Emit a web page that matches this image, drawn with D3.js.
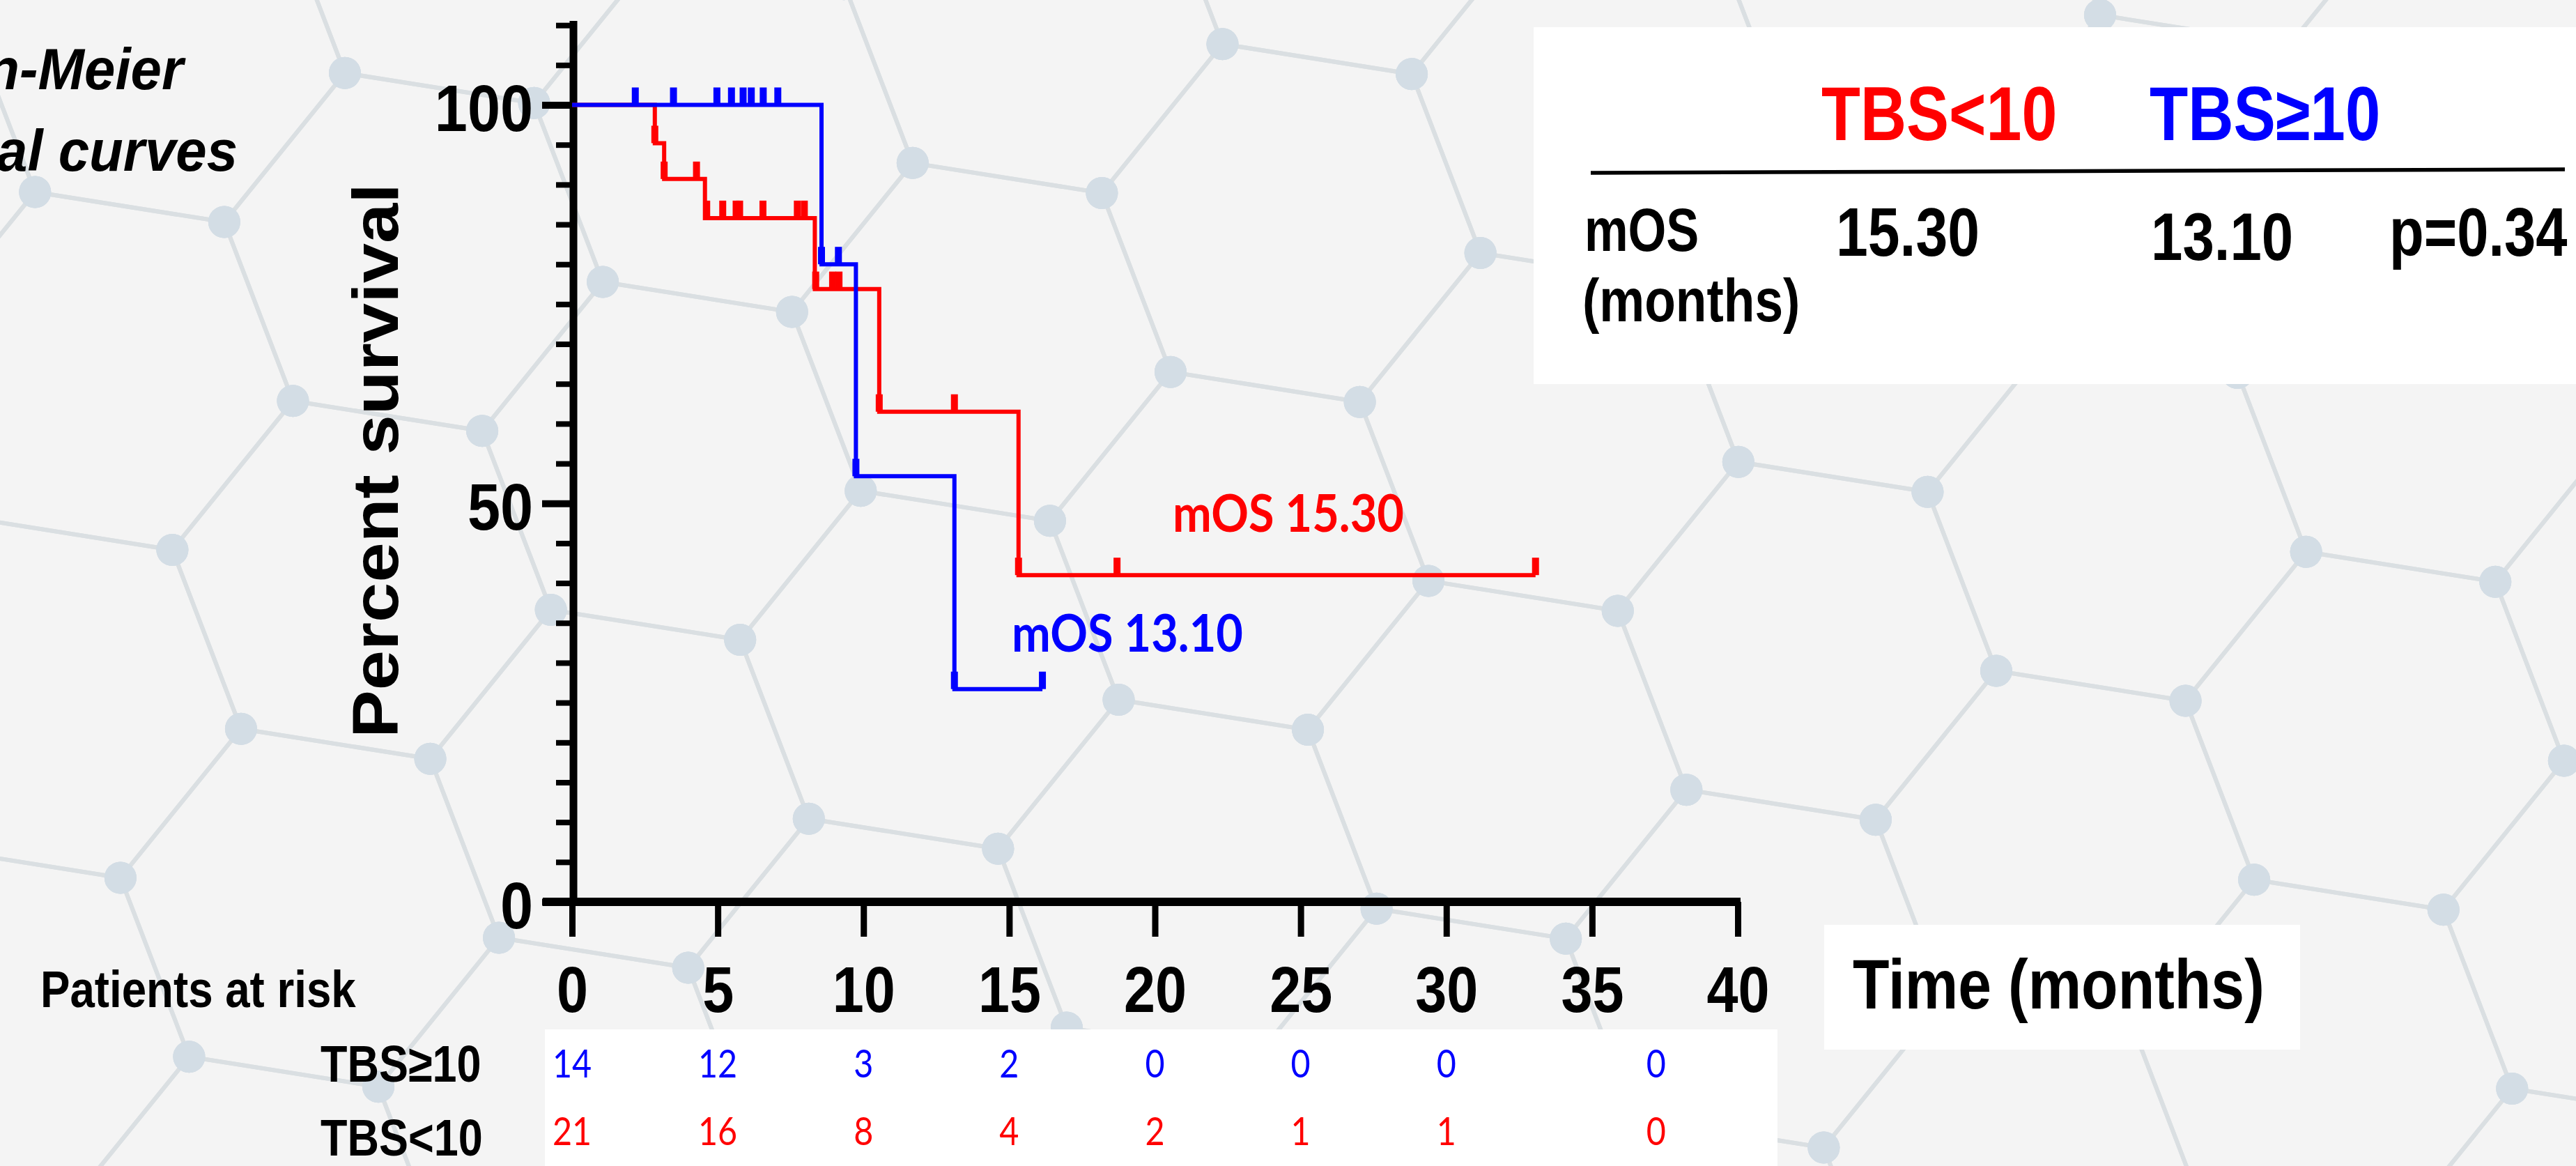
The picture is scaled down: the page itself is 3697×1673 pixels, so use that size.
<!DOCTYPE html>
<html>
<head>
<meta charset="utf-8">
<script src="https://cdn.jsdelivr.net/npm/d3@7"></script>
<style>
  body { margin: 0; overflow: hidden; background: #f4f4f4; }
  svg { display: block; }
</style>
</head>
<body>
<script>
// ---- data ----
const xTicks = [0, 5, 10, 15, 20, 25, 30, 35, 40];
const yTicks = [0, 50, 100];
const yMinorTicks = d3.range(0, 111, 5);

// Kaplan-Meier steps: [months, percent surviving]
const blueSteps = [[0, 100], [8.56, 80.0], [9.74, 53.4], [13.12, 26.7], [16.14, 26.7]];
const redSteps = [[0, 100], [2.84, 95.2], [3.16, 90.7], [4.56, 85.8], [8.33, 76.9], [10.54, 61.5], [15.32, 41.0], [33.06, 41.0]];

// censored marks: [months, percent]
const blueCensored = [[2.17, 100], [3.48, 100], [4.97, 100], [5.47, 100], [5.87, 100], [6.15, 100], [6.56, 100], [7.06, 100],
  [8.56, 80.0], [9.14, 80.0], [9.74, 53.4], [13.12, 26.7], [16.14, 26.7]];
const redCensored = [[2.84, 95.2], [3.16, 90.7], [4.27, 90.7], [4.62, 85.8], [5.17, 85.8], [5.63, 85.8], [5.75, 85.8],
  [6.55, 85.8], [7.73, 85.8], [7.97, 85.8], [8.36, 76.9], [8.94, 76.9], [9.16, 76.9], [10.54, 61.5], [13.12, 61.5],
  [15.32, 41.0], [18.7, 41.0], [33.06, 41.0]];

const riskTimes = [0, 5, 10, 15, 20, 25, 30, 37.2];
const riskBlue = [14, 12, 3, 2, 0, 0, 0, 0];
const riskRed = [21, 16, 8, 4, 2, 1, 1, 0];

const groupLow = "TBS<10";
const groupHigh = "TBS\u226510";
const medianLow = "15.30";
const medianHigh = "13.10";
const pValue = "p=0.34";

// ---- setup ----
const W = 3697, H = 1673;
const RED = "#ff0000", BLUE = "#0000ff";
const ARIAL = "'Liberation Sans', Arial, Helvetica, sans-serif";
const CALIBRI = "Lato, 'Open Sans', sans-serif";

const svg = d3.select("body").append("svg").attr("width", W).attr("height", H);
svg.append("rect").attr("width", W).attr("height", H).attr("fill", "#f4f4f4");

// background hexagon network (decoration)
const R = 275, rot = 9 * Math.PI / 180, cx0 = 519, cy0 = 832;
const rotp = (x, y) => [x * Math.cos(rot) - y * Math.sin(rot), x * Math.sin(rot) + y * Math.cos(rot)];
const a1 = rotp(1.5 * R, Math.sqrt(3) / 2 * R);
const a2 = rotp(0, Math.sqrt(3) * R);
const hexes = [];
for (let i = -8; i <= 18; i++) {
  for (let j = -14; j <= 14; j++) {
    const c = [cx0 + i * a1[0] + j * a2[0], cy0 + i * a1[1] + j * a2[1]];
    if (c[0] > -350 && c[0] < W + 350 && c[1] > -350 && c[1] < H + 350) hexes.push(c);
  }
}
const bg = svg.append("g");
const verts = c => d3.range(6).map(k => [c[0] + R * Math.cos(rot + k * Math.PI / 3), c[1] + R * Math.sin(rot + k * Math.PI / 3)]);
bg.selectAll("path").data(hexes).enter().append("path")
  .attr("d", c => d3.line()(verts(c)) + "Z")
  .attr("fill", "none").attr("stroke", "#dadfe2").attr("stroke-width", 6);
bg.selectAll("circle").data(hexes.flatMap(verts)).enter().append("circle")
  .attr("cx", d => d[0]).attr("cy", d => d[1]).attr("r", 23).attr("fill", "#d3dde5");

// white panels
svg.append("rect").attr("x", 2201).attr("y", 39).attr("width", W - 2201).attr("height", 512).attr("fill", "#fff");
svg.append("rect").attr("x", 2618).attr("y", 1327).attr("width", 683).attr("height", 179).attr("fill", "#fff");
svg.append("rect").attr("x", 782).attr("y", 1477).attr("width", 1769).attr("height", H - 1477).attr("fill", "#fff");

function label(txt, x, y, o) {
  const t = svg.append("text")
    .attr("transform", `translate(${x},${y}) ${o.rotate ? "rotate(" + o.rotate + ")" : ""} scale(${o.sx || 1},1)`)
    .attr("font-family", o.family || ARIAL)
    .attr("font-size", o.size)
    .attr("font-weight", o.weight || "bold")
    .attr("font-style", o.italic ? "italic" : "normal")
    .attr("text-anchor", o.anchor || "start")
    .attr("fill", o.color || "#000")
    .text(txt);
  return t;
}

// ---- scales and axes ----
const x = d3.scaleLinear().domain([0, 40]).range([821, 2494]);
const y = d3.scaleLinear().domain([0, 110]).range([1294, 1294 - 110 * 11.435]);
const axisX = 823;

const gyMinor = svg.append("g").attr("transform", `translate(${axisX},0)`)
  .call(d3.axisLeft(y).tickValues(yMinorTicks).tickSize(25).tickSizeOuter(0).tickFormat(""));
gyMinor.select(".domain").remove();
gyMinor.selectAll("line").attr("stroke", "#000").attr("stroke-width", 8);

const gy = svg.append("g").attr("transform", `translate(${axisX},0)`)
  .call(d3.axisLeft(y).tickValues(yTicks).tickSize(45).tickSizeOuter(0));
gy.select(".domain").remove();
gy.selectAll("line").attr("stroke", "#000").attr("stroke-width", 10);
gy.selectAll("text")
  .attr("x", null).attr("dy", null)
  .attr("transform", "translate(-58,37) scale(0.9,1)")
  .attr("font-family", ARIAL).attr("font-weight", "bold").attr("font-size", 94).attr("fill", "#000");

const gx = svg.append("g").attr("transform", `translate(0,${y(0)})`)
  .call(d3.axisBottom(x).tickValues(xTicks).tickSize(50).tickSizeOuter(0));
gx.select(".domain").remove();
gx.selectAll("line").attr("stroke", "#000").attr("stroke-width", 9);
gx.selectAll("text")
  .attr("y", null).attr("dy", null)
  .attr("transform", "translate(0,158) scale(0.87,1)")
  .attr("font-family", ARIAL).attr("font-weight", "bold").attr("font-size", 93).attr("fill", "#000");

// axis lines
svg.append("line").attr("x1", axisX).attr("x2", axisX).attr("y1", 30).attr("y2", y(0) + 6)
  .attr("stroke", "#000").attr("stroke-width", 11);
svg.append("line").attr("x1", 779).attr("x2", x(40) + 4).attr("y1", y(0)).attr("y2", y(0))
  .attr("stroke", "#000").attr("stroke-width", 12);

// ---- survival curves ----
const step = d3.line().x(d => x(d[0])).y(d => y(d[1])).curve(d3.curveStepAfter);
function curve(steps, cens, color) {
  svg.append("path").datum(steps).attr("d", step)
    .attr("fill", "none").attr("stroke", color).attr("stroke-width", 6).attr("stroke-linejoin", "miter");
  svg.append("g").selectAll("line").data(cens).enter().append("line")
    .attr("x1", d => x(d[0])).attr("x2", d => x(d[0]))
    .attr("y1", d => y(d[1])).attr("y2", d => y(d[1]) - 25)
    .attr("stroke", color).attr("stroke-width", 10);
}
curve(redSteps, redCensored, RED);
curve(blueSteps, blueCensored, BLUE);

label("mOS " + medianLow, 1683, 763, { size: 74, sx: 0.9, family: CALIBRI, color: RED });
label("mOS " + medianHigh, 1452, 935, { size: 74, sx: 0.9, family: CALIBRI, color: BLUE });

// ---- titles ----
label("Kaplan-Meier", 263, 128, { size: 84, sx: 0.95, italic: true, anchor: "end" });
label("survival curves", 341, 245, { size: 84, sx: 0.95, italic: true, anchor: "end" });
label("Percent survival", 571, 661, { size: 92, rotate: -90, sx: 1.12, anchor: "middle" });
label("Time (months)", 2659, 1447, { size: 100, sx: 0.86 });

// ---- median table ----
label(groupLow, 2614, 201, { size: 109, sx: 0.84, color: RED });
label(groupHigh, 3085, 201, { size: 109, sx: 0.83, color: BLUE });
svg.append("line").attr("x1", 2283).attr("y1", 248).attr("x2", 3681).attr("y2", 243)
  .attr("stroke", "#000").attr("stroke-width", 5.5);
label("mOS", 2274, 360, { size: 88, sx: 0.8 });
label("(months)", 2271, 461, { size: 88, sx: 0.83 });
label(medianLow, 2635, 367, { size: 98, sx: 0.84 });
label(medianHigh, 3087, 373, { size: 96, sx: 0.85 });
label(pValue, 3429, 367, { size: 98, sx: 0.83 });

// ---- patients at risk ----
label("Patients at risk", 58, 1445, { size: 74, sx: 0.86 });
label(groupHigh, 460, 1552, { size: 75, sx: 0.84 });
label(groupLow, 460, 1658, { size: 75, sx: 0.84 });

function riskRow(vals, baseline, color) {
  svg.append("g").selectAll("text").data(vals).enter().append("text")
    .attr("transform", (d, i) => `translate(${x(riskTimes[i])},${baseline}) scale(0.85,1)`)
    .attr("font-family", CALIBRI).attr("font-size", 57).attr("text-anchor", "middle")
    .attr("fill", color).text(d => d);
}
riskRow(riskBlue, 1546, BLUE);
riskRow(riskRed, 1643, RED);
</script>
</body>
</html>
